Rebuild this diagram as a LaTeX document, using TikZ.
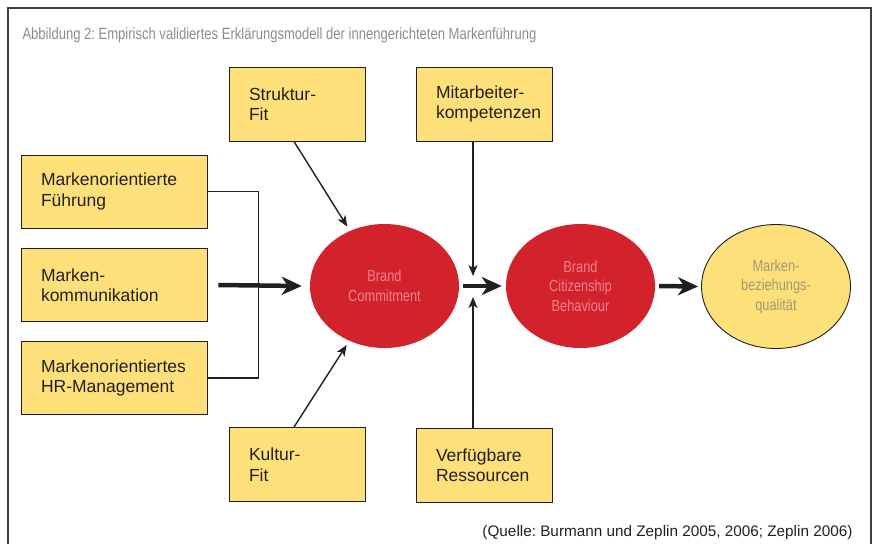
\documentclass[tikz,border=0pt]{standalone}
\usepackage{xcolor}
\usepackage{fontspec}
\usepackage{tikz}
\usetikzlibrary{shapes.geometric,arrows.meta}
\setmainfont{Liberation Sans}
\newfontfamily\condfont{Liberation Sans}[FakeStretch=0.8]
\frenchspacing

\definecolor{boxyellow}{RGB}{253,224,122}
\definecolor{brandred}{RGB}{210,34,44}
\definecolor{pinktext}{RGB}{240,130,138}
\definecolor{olivetext}{RGB}{165,152,112}
\definecolor{darktext}{RGB}{35,31,32}

\tikzset{
    factor/.style={draw=darktext, line width=0.9pt, fill=boxyellow, align=left,
        inner xsep=20pt, inner ysep=0pt, text=darktext,
        font=\fontsize{17.5}{20.5}\selectfont},
    sidebox/.style={factor, minimum width=186pt, minimum height=73pt, text width=146pt},
    topbox/.style={factor, minimum width=136pt, minimum height=74pt, text width=96pt},
    construct/.style={ellipse, inner sep=0pt, minimum width=149pt, minimum height=124pt,
        align=center, font=\condfont\fontsize{16}{19.5}\selectfont},
    thinarrow/.style={-{Stealth[length=11pt, width=9pt, inset=3pt]}, line width=1.4pt, draw=darktext},
    thickarrow/.style={-{Stealth[length=20pt, width=18pt, inset=6pt]}, line width=4.5pt, draw=darktext}
}

\begin{document}
\begin{tikzpicture}[x=1pt, y=-1pt]
        \useasboundingbox (0,0) rectangle (874,544);
        \draw[line width=1.2pt, draw=black!75] (8,544) -- (8,8) -- (871,8) -- (871,544);
        \node[anchor=west, text=black!45, font=\condfont\fontsize{16.3}{19}\selectfont] (title) at (19,35)
            {Abbildung 2: Empirisch validiertes Erklärungsmodell der innengerichteten Markenführung};

        \node[sidebox] (fuehrung) at (114,191.5) {Markenorientierte\\Führung};
        \node[sidebox] (komm) at (114,285) {Marken-\\kommunikation};
        \node[sidebox] (hr) at (114,378) {Markenorientiertes\\HR-Management};

        \node[topbox] (struktur) at (297,104) {Struktur-\\Fit};
        \node[topbox] (kultur) at (297,464.5) {Kultur-\\Fit};
        \node[topbox] (mitarbeiter) at (484,104) {Mitarbeiter-\\kompetenzen};
        \node[topbox] (ressourcen) at (484,465) {Verfügbare\\Ressourcen};

        \node[construct, fill=brandred, text=pinktext] (commit) at (384.5,286) {Brand\\Commitment};
        \node[construct, fill=brandred, text=pinktext] (citizen) at (580.5,286) {Brand\\Citizenship\\Behaviour};
        \node[construct, fill=boxyellow, draw=darktext, line width=0.9pt, text=olivetext] (quality) at (776,286.5)
            {Marken-\\beziehungs-\\qualität};

        \draw[line width=1.4pt, draw=darktext] (fuehrung.east) -- ++(51,0) |- (hr.east);
        \draw[thickarrow] ([xshift=11pt]komm.east) -- ([xshift=-8pt]commit.west);
        \draw[thinarrow, shorten >=5pt] ([xshift=-3pt]struktur.south) -- (commit);
        \draw[thinarrow, shorten >=5pt] ([xshift=-3pt]kultur.north) -- (commit);

        \coordinate (jointop) at (473,276);
        \coordinate (jointbottom) at (473,297);
        \draw[thinarrow] ([xshift=-11pt]mitarbeiter.south) -- (jointop);
        \draw[thinarrow] ([xshift=-11pt]ressourcen.north) -- (jointbottom);
        \draw[thickarrow] ([xshift=4pt]commit.east) -- ([xshift=-4pt]citizen.west);
        \draw[thickarrow] ([xshift=4pt]citizen.east) -- ([xshift=-3pt]quality.west);

        \node[anchor=east, text=darktext, font=\fontsize{15.3}{18}\selectfont] (source) at (856,533)
            {(Quelle: Burmann und Zeplin 2005, 2006; Zeplin 2006)};
    \end{tikzpicture}
\end{document}
